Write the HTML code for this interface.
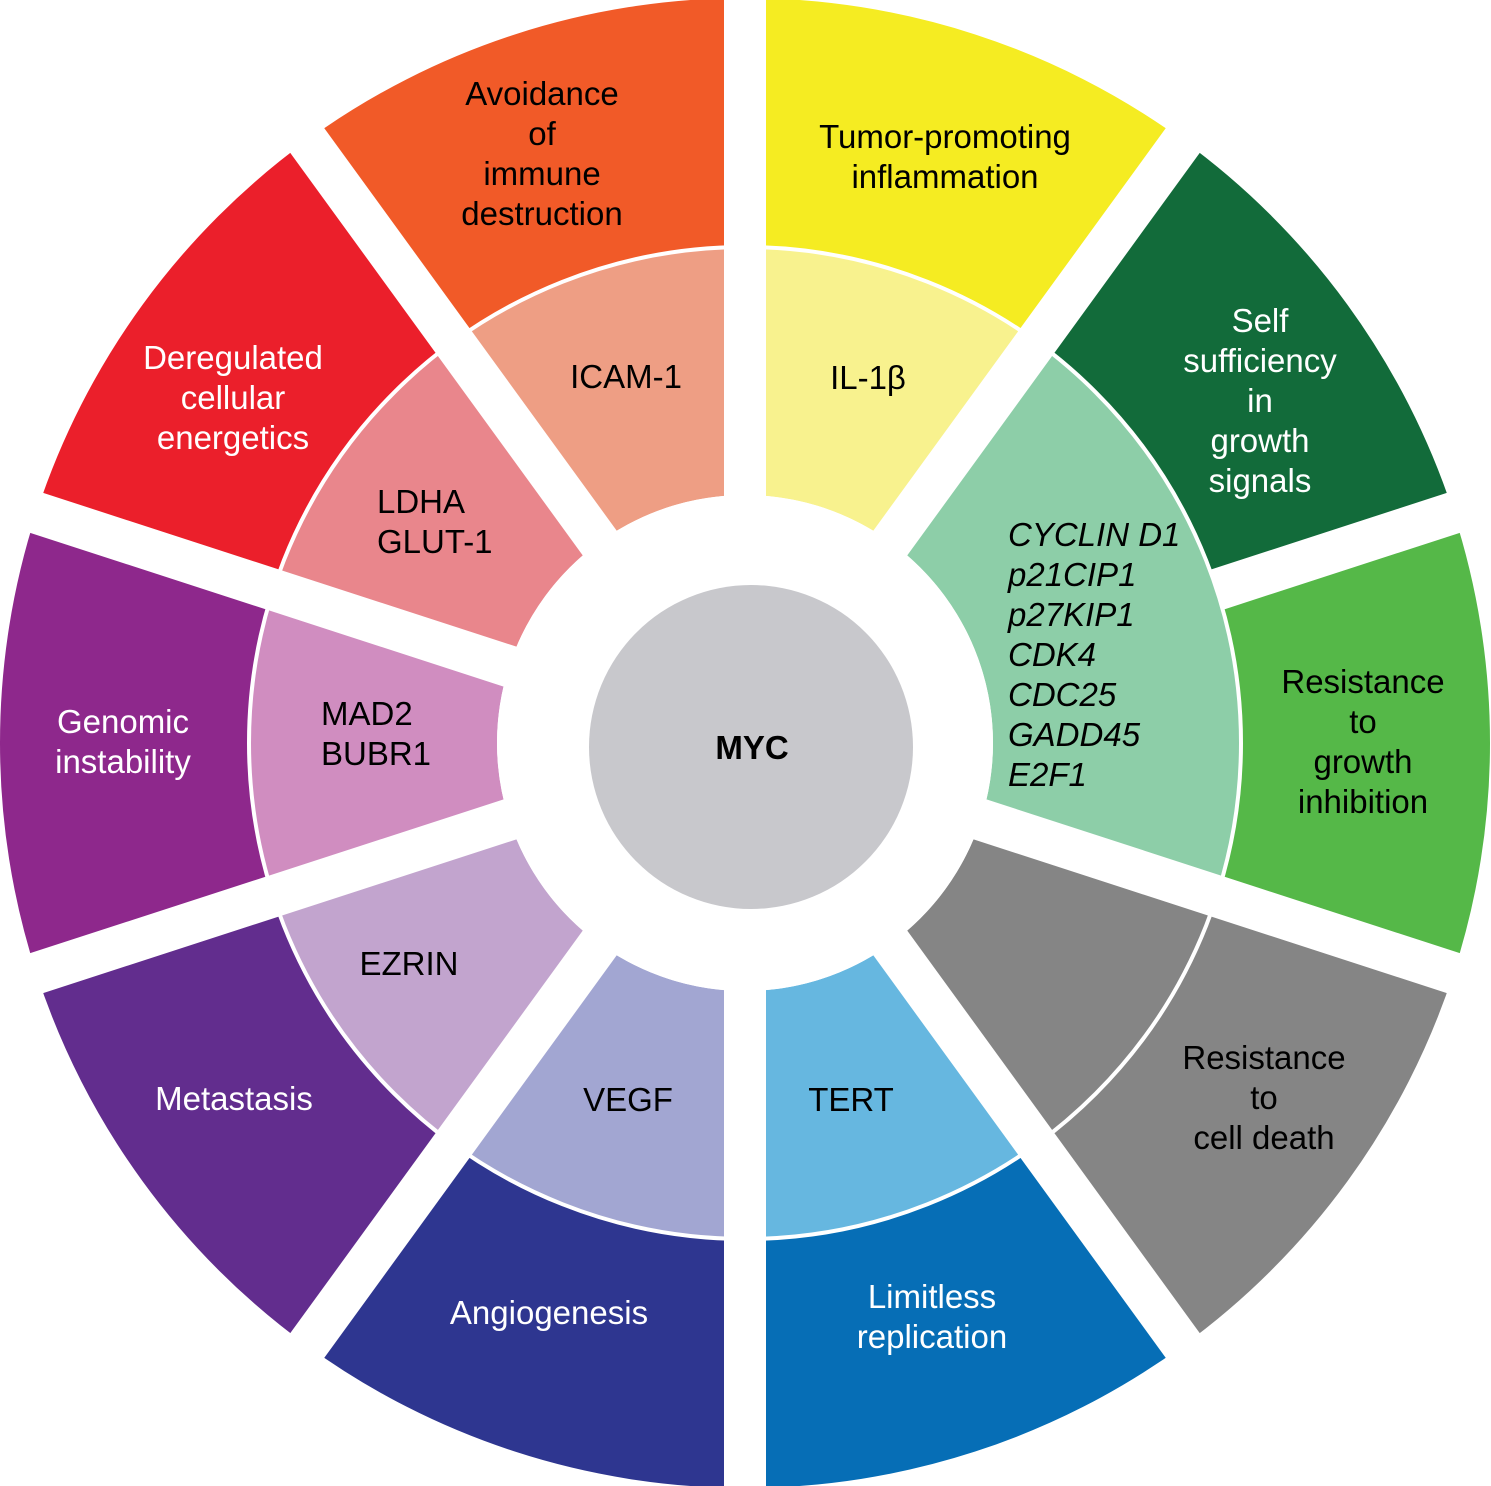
<!DOCTYPE html>
<html><head><meta charset="utf-8"><style>
html,body{margin:0;padding:0;background:#fff;}
svg{display:block;}
text{font-family:"Liberation Sans",Arial,sans-serif;font-size:33px;}
</style></head><body>
<svg id="s" width="1491" height="1486" viewBox="0 0 1491 1486" xmlns="http://www.w3.org/2000/svg">
<g id="g"></g>
<g text-anchor="middle">
<text x="542" y="105">Avoidance</text><text x="542" y="145">of</text><text x="542" y="185">immune</text><text x="542" y="225">destruction</text>
<text x="945" y="148">Tumor-promoting</text><text x="945" y="188">inflammation</text>
<g fill="#fff"><text x="1260" y="332">Self</text><text x="1260" y="372">sufficiency</text><text x="1260" y="412">in</text><text x="1260" y="452">growth</text><text x="1260" y="492">signals</text></g>
<text x="1363" y="693">Resistance</text><text x="1363" y="733">to</text><text x="1363" y="773">growth</text><text x="1363" y="813">inhibition</text>
<text x="1264" y="1069">Resistance</text><text x="1264" y="1109">to</text><text x="1264" y="1149">cell death</text>
<g fill="#fff"><text x="932" y="1308">Limitless</text><text x="932" y="1348">replication</text>
<text x="549" y="1324">Angiogenesis</text>
<text x="234" y="1110">Metastasis</text>
<text x="123" y="733">Genomic</text><text x="123" y="773">instability</text>
<text x="233" y="369">Deregulated</text><text x="233" y="409">cellular</text><text x="233" y="449">energetics</text></g>
<text x="626" y="388">ICAM-1</text>
<text x="868" y="389">IL-1β</text>
<text x="409" y="975">EZRIN</text>
<text x="628" y="1111">VEGF</text>
<text x="851" y="1111">TERT</text>
<text x="752" y="759" font-weight="bold" font-size="32">MYC</text>
</g>
<text x="377" y="513">LDHA</text><text x="377" y="553">GLUT-1</text>
<text x="321" y="725">MAD2</text><text x="321" y="765">BUBR1</text>
<g font-style="italic"><text x="1008" y="546">CYCLIN D1</text><text x="1008" y="586">p21CIP1</text><text x="1008" y="626">p27KIP1</text><text x="1008" y="666">CDK4</text><text x="1008" y="706">CDC25</text><text x="1008" y="746">GADD45</text><text x="1008" y="786">E2F1</text></g>
</svg>
<script>
var cx=745,cy=743,R=745,r=496,h=248;
function p(a,rad){a=a*Math.PI/180;return [cx+rad*Math.sin(a),cy-rad*Math.cos(a)];}
function sec(a1,a2,r1,r2,c){var A=p(a1,r2),B=p(a2,r2),C=p(a2,r1),D=p(a1,r1);
return '<path fill="'+c+'" d="M'+A+' A'+r2+','+r2+' 0 0 1 '+B+' L'+C+' A'+r1+','+r1+' 0 0 0 '+D+'Z"/>';}
var outer=['#F5EC22','#126B3A','#55B848','#858585','#066EB6','#2E3690','#622D8E','#8E288C','#EB1F2B','#F15A28'];
var inner=['#F8F28E',null,null,'#858585','#66B7E0','#A2A6D2','#C2A4CE','#D08DC0','#E9868C','#EE9E84'];
var s='';
for(var i=0;i<10;i++){s+=sec(i*36,i*36+36,r,R,outer[i]);if(inner[i])s+=sec(i*36,i*36+36,h,r,inner[i]);}
s+=sec(36,108,h,r,'#8DCEA8');
s+='<circle cx="'+cx+'" cy="'+cy+'" r="'+r+'" fill="none" stroke="#fff" stroke-width="4"/>';
for(var i=0;i<10;i++){var a=i*36;var st=(a==72)?r:0;var P=p(a,st),Q=p(a,R+20);
s+='<line x1="'+P[0]+'" y1="'+P[1]+'" x2="'+Q[0]+'" y2="'+Q[1]+'" stroke="#fff" stroke-width="42"/>';}
s+='<circle cx="'+cx+'" cy="'+cy+'" r="'+h+'" fill="#fff"/>';
s+='<circle cx="751" cy="747" r="162" fill="#C8C8CC"/>';
document.getElementById('g').innerHTML=s;
</script>
</body></html>
